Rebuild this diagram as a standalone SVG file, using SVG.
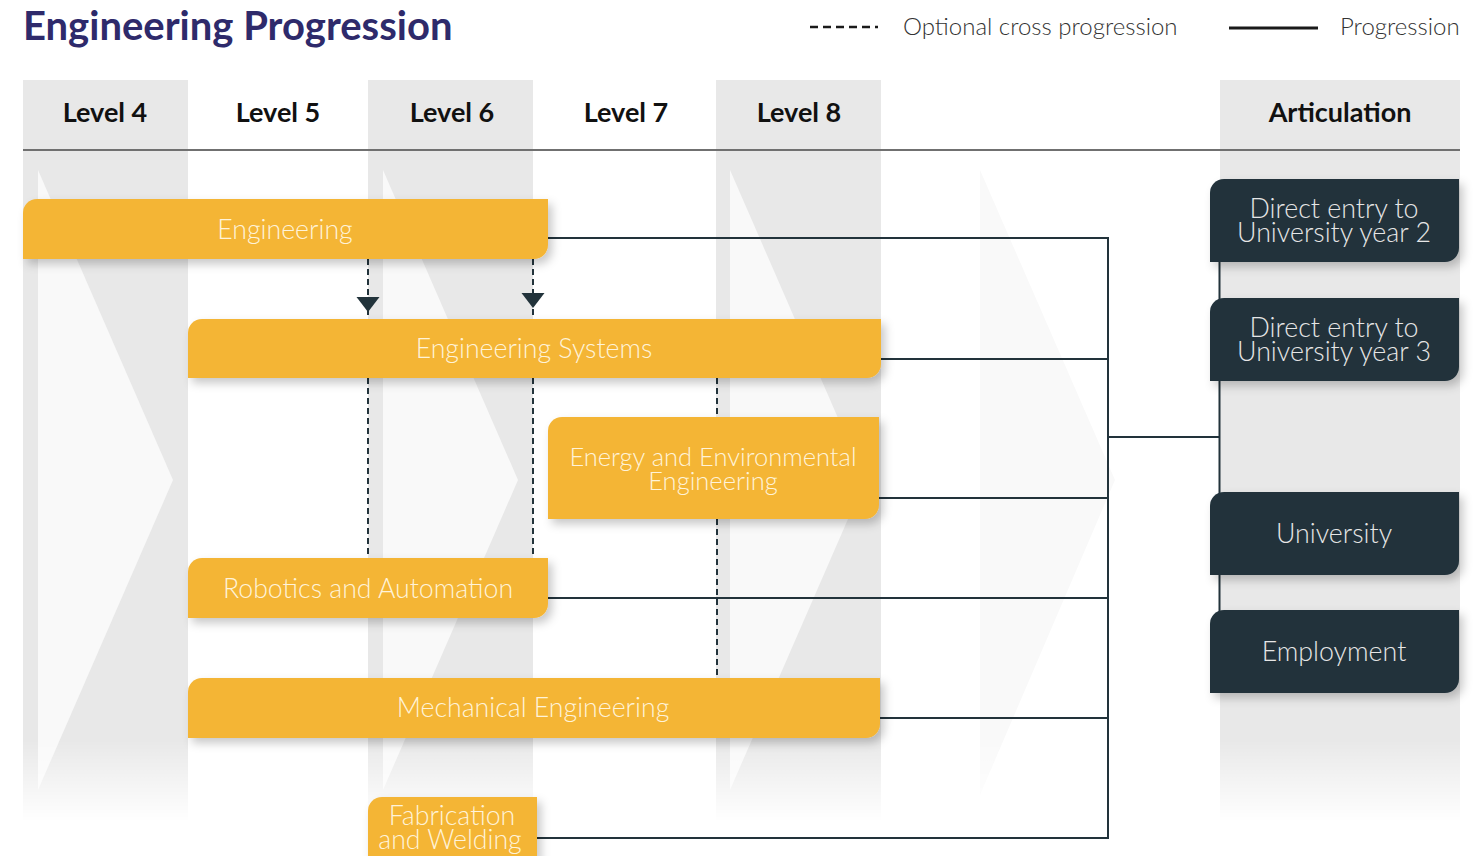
<svg xmlns="http://www.w3.org/2000/svg" xmlns:xlink="http://www.w3.org/1999/xlink" width="1481" height="856" viewBox="0 0 1481 856">
<style>
.band{fill:#e8e8e8}
.chev{fill:#f9f9f9}
.hdr{font-family:Lato,'Liberation Sans',sans-serif;font-weight:700;font-size:27px;fill:#111;text-anchor:middle}
.leg{font-family:Lato,'Liberation Sans',sans-serif;font-weight:300;font-size:24px;fill:#333}
.box{fill:#F4B536;filter:url(#sh)}
.dbox{fill:#22333B;filter:url(#sh)}
.bt{font-family:Lato,'Liberation Sans',sans-serif;font-weight:300;font-size:26.7px;fill:#FFF3D9;text-anchor:middle}
.dt{font-family:Lato,'Liberation Sans',sans-serif;font-weight:300;font-size:26.8px;fill:#E6E6E6;text-anchor:middle}
.con{fill:none;stroke:#22333B;stroke-width:2}
.dash{fill:none;stroke:#22333B;stroke-width:2;stroke-dasharray:6 4}
</style>
<defs>
<filter id="sh" x="-10%" y="-30%" width="125%" height="170%">
<feDropShadow dx="4" dy="5" stdDeviation="5" flood-color="#000" flood-opacity="0.22"/>
</filter>
<linearGradient id="fade" gradientUnits="userSpaceOnUse" x1="0" y1="740" x2="0" y2="822">
<stop offset="0" stop-color="#fff"/>
<stop offset="1" stop-color="#000"/>
</linearGradient>
<mask id="fm" maskUnits="userSpaceOnUse" x="0" y="0" width="1481" height="856">
<rect x="0" y="0" width="1481" height="856" fill="url(#fade)"/>
</mask>
<path id="arr" d="M-11.5,-15 L11.5,-15 L0,0 Z" fill="#22333B"/>
</defs>

<rect x="0" y="0" width="1481" height="856" fill="#fff"/>

<g id="background" mask="url(#fm)">
<rect class="band" x="23" y="80" width="165" height="745"/>
<rect class="band" x="368" y="80" width="165" height="745"/>
<rect class="band" x="716" y="80" width="165" height="745"/>
<rect class="band" x="1220" y="80" width="240" height="745"/>
<polygon class="chev" points="38,170 173,480 38,790"/>
<polygon class="chev" points="383,170 518,480 383,790"/>
<polygon class="chev" points="730,170 865,480 730,790"/>
<polygon class="chev" points="980,170 1115,480 980,795"/>
</g>
<line x1="23" y1="150" x2="1460" y2="150" stroke="#707070" stroke-width="2"/>

<g id="title">
<text x="23" y="40" font-family="Lato,'Liberation Sans',sans-serif" font-weight="700" font-size="40" fill="#2E2A6B">Engineering Progression</text>
</g>

<g id="legend">
<path d="M810,27 H878" fill="none" stroke="#1a1a1a" stroke-width="2.5" stroke-dasharray="8 5"/>
<text class="leg" x="903" y="35">Optional cross progression</text>
<path d="M1229,28 H1318" fill="none" stroke="#1a1a1a" stroke-width="3"/>
<text class="leg" x="1340" y="35">Progression</text>
</g>

<g id="headers">
<text class="hdr" x="105" y="122">Level 4</text>
<text class="hdr" x="278" y="122">Level 5</text>
<text class="hdr" x="452" y="122">Level 6</text>
<text class="hdr" x="626" y="122">Level 7</text>
<text class="hdr" x="799" y="122">Level 8</text>
<text class="hdr" x="1340" y="122">Articulation</text>
</g>

<g id="connectors">
<path class="con" d="M548,238 H1108 V838 H537"/>
<path class="con" d="M881,359 H1108"/>
<path class="con" d="M879,498 H1108"/>
<path class="con" d="M548,598 H1108"/>
<path class="con" d="M880,718 H1108"/>
<path class="con" d="M1108,437 H1220"/>
<path class="con" d="M1219.5,262 V612"/>
<path class="dash" d="M368,259 V319"/>
<path class="dash" d="M533,259 V319"/>
<path class="dash" d="M368,378 V558"/>
<path class="dash" d="M533,378 V558"/>
<path class="dash" d="M717,378 V417"/>
<path class="dash" d="M717,519 V678"/>
<use xlink:href="#arr" x="368" y="312"/>
<use xlink:href="#arr" x="533" y="308"/>
</g>

<g id="n-engineering">
<path class="box" d="M23,213 A14,14 0 0 1 37,199 H548 V245 A14,14 0 0 1 534,259 H23 Z"/>
<text class="bt" x="285" y="239">Engineering</text>
</g>
<g id="n-engineering-systems">
<path class="box" d="M188,333 A14,14 0 0 1 202,319 H881 V364 A14,14 0 0 1 867,378 H188 Z"/>
<text class="bt" x="534" y="358">Engineering Systems</text>
</g>
<g id="n-energy">
<path class="box" d="M548,431 A14,14 0 0 1 562,417 H879 V505 A14,14 0 0 1 865,519 H548 Z"/>
<text class="bt" x="713" y="466" style="font-size:25.5px">Energy and Environmental</text>
<text class="bt" x="713" y="490" style="font-size:25.5px">Engineering</text>
</g>
<g id="n-robotics">
<path class="box" d="M188,572 A14,14 0 0 1 202,558 H548 V604 A14,14 0 0 1 534,618 H188 Z"/>
<text class="bt" x="368" y="598">Robotics and Automation</text>
</g>
<g id="n-mechanical">
<path class="box" d="M188,692 A14,14 0 0 1 202,678 H880 V724 A14,14 0 0 1 866,738 H188 Z"/>
<text class="bt" x="533" y="717">Mechanical Engineering</text>
</g>
<g id="n-fabrication">
<path class="box" d="M368,811 A14,14 0 0 1 382,797 H537 V866 A14,14 0 0 1 523,880 H368 Z"/>
<text class="bt" x="452" y="825">Fabrication</text>
<text class="bt" x="450" y="849">and Welding</text>
</g>

<g id="a-year2">
<path class="dbox" d="M1210,193 A14,14 0 0 1 1224,179 H1459 V248 A14,14 0 0 1 1445,262 H1210 Z"/>
<text class="dt" x="1334" y="218">Direct entry to</text>
<text class="dt" x="1334" y="242">University year 2</text>
</g>
<g id="a-year3">
<path class="dbox" d="M1210,312 A14,14 0 0 1 1224,298 H1459 V367 A14,14 0 0 1 1445,381 H1210 Z"/>
<text class="dt" x="1334" y="337">Direct entry to</text>
<text class="dt" x="1334" y="361">University year 3</text>
</g>
<g id="a-university">
<path class="dbox" d="M1210,506 A14,14 0 0 1 1224,492 H1459 V561 A14,14 0 0 1 1445,575 H1210 Z"/>
<text class="dt" x="1334" y="543">University</text>
</g>
<g id="a-employment">
<path class="dbox" d="M1210,624 A14,14 0 0 1 1224,610 H1459 V679 A14,14 0 0 1 1445,693 H1210 Z"/>
<text class="dt" x="1334" y="661">Employment</text>
</g>
</svg>
